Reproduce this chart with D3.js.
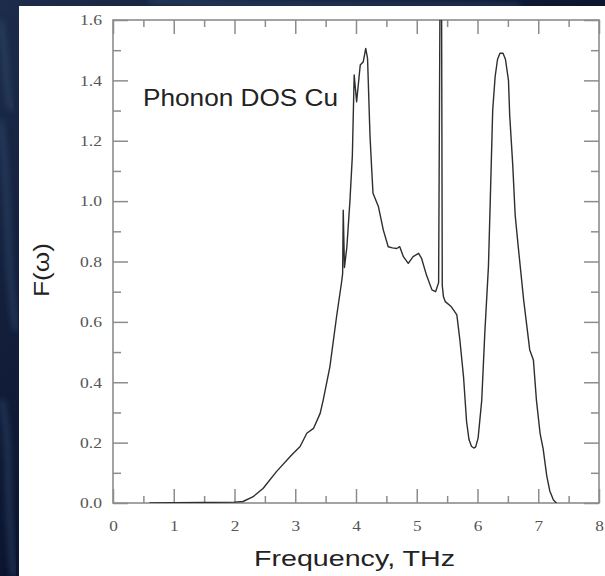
<!DOCTYPE html>
<html>
<head>
<meta charset="utf-8">
<script src="https://cdn.jsdelivr.net/npm/d3@7"></script>
<style>
  body { margin: 0; background: #0a1228; }
  svg { display: block; }
</style>
</head>
<body>
<script>
/* phonon density of states */
var freq = [0.6, 1.0, 1.5, 2.0, 2.14, 2.3, 2.47, 2.69, 2.94, 3.08, 3.19, 3.30, 3.41, 3.46, 3.57, 3.68, 3.76, 3.78, 3.79, 3.81,
            3.85, 3.90, 3.94, 3.97, 4.01, 4.07, 4.12, 4.16, 4.19, 4.23, 4.26, 4.28, 4.37, 4.45, 4.53, 4.60, 4.67, 4.72, 4.78, 4.86,
            4.94, 5.03, 5.08, 5.16, 5.25, 5.31, 5.36, 5.40, 5.42, 5.44, 5.47, 5.57, 5.66, 5.71, 5.77, 5.82, 5.86, 5.90, 5.94, 5.97,
            6.01, 6.07, 6.12, 6.18, 6.21, 6.25, 6.29, 6.33, 6.37, 6.42, 6.46, 6.51, 6.53, 6.58, 6.62, 6.67, 6.76, 6.86, 6.92, 6.97,
            7.03, 7.08, 7.14, 7.19, 7.25, 7.30];
var dos  = [0.0, 0.001, 0.002, 0.003, 0.005, 0.02, 0.048, 0.104, 0.159, 0.187, 0.231, 0.247, 0.297, 0.341, 0.451, 0.617, 0.728, 0.76, 0.97, 0.78,
            0.849, 1.0, 1.15, 1.418, 1.329, 1.451, 1.462, 1.506, 1.473, 1.219, 1.10, 1.026, 0.981, 0.904, 0.849, 0.845, 0.843, 0.849, 0.816, 0.794,
            0.816, 0.827, 0.810, 0.755, 0.706, 0.700, 0.73, 2.4, 0.72, 0.683, 0.667, 0.650, 0.623, 0.540, 0.418, 0.270, 0.210, 0.188, 0.182, 0.186,
            0.215, 0.341, 0.562, 0.783, 1.0, 1.3, 1.412, 1.47, 1.49, 1.49, 1.47, 1.40, 1.285, 1.12, 0.954, 0.85, 0.672, 0.507, 0.474, 0.341,
            0.231, 0.18, 0.09, 0.04, 0.01, 0.0];

var xMajor = [0, 1, 2, 3, 4, 5, 6, 7, 8];
var xMinor = [0.5, 1.5, 2.5, 3.5, 4.5, 5.5, 6.5, 7.5];
var yMajor = [0.0, 0.2, 0.4, 0.6, 0.8, 1.0, 1.2, 1.4, 1.6];
var yMinor = [0.1, 0.3, 0.5, 0.7, 0.9, 1.1, 1.3, 1.5];

var width = 605, height = 576;
var plot = {left: 113, right: 599, top: 20, bottom: 503};
var axisColor = "#8c8c8c";
var majorLen = 14, minorLen = 7; // tick lengths, drawn inward

var svg = d3.select("body").append("svg")
    .attr("width", width)
    .attr("height", height);

/* dark textured backdrop */
var defs = svg.append("defs");
var grad = defs.append("linearGradient").attr("id", "bg")
    .attr("x1", "0").attr("y1", "0").attr("x2", "1").attr("y2", "1");
grad.append("stop").attr("offset", "0").attr("stop-color", "#1c2c4a");
grad.append("stop").attr("offset", "0.5").attr("stop-color", "#0b1530");
grad.append("stop").attr("offset", "1").attr("stop-color", "#060c1c");
defs.append("filter").attr("id", "blur").append("feGaussianBlur").attr("stdDeviation", 3);
defs.append("clipPath").attr("id", "clip").append("rect")
    .attr("x", plot.left).attr("y", plot.top)
    .attr("width", plot.right - plot.left).attr("height", plot.bottom - plot.top);

svg.append("rect").attr("width", width).attr("height", height).attr("fill", "url(#bg)");
var streaks = ["M0,120 C10,180 5,260 16,330", "M2,400 C12,450 6,520 14,576", "M150,0 C250,8 380,2 520,6", "M0,20 C8,60 4,90 12,110"];
svg.selectAll(".streak").data(streaks).enter().append("path")
    .attr("d", function(d) { return d; })
    .attr("fill", "none")
    .attr("stroke", "#3d5a80")
    .attr("stroke-width", 4)
    .attr("opacity", 0.6)
    .attr("filter", "url(#blur)");

/* white panel */
svg.append("rect")
    .attr("x", 19).attr("y", 6)
    .attr("width", width - 19).attr("height", height - 6)
    .attr("fill", "#ffffff");

var xScale = d3.scaleLinear().domain([0, 8]).range([plot.left, plot.right]);
var yScale = d3.scaleLinear().domain([0, 1.6]).range([plot.bottom, plot.top]);

function styleAxis(g) {
    g.select(".domain").remove();
    g.selectAll("line").attr("stroke", axisColor).attr("stroke-width", 1.5);
    g.selectAll("text")
        .attr("fill", "#555")
        .attr("font-family", "'Liberation Serif', 'DejaVu Serif', serif")
        .attr("font-size", 15);
}

function stretch(sel, k) {
    sel.each(function() {
        var w = this.getComputedTextLength();
        d3.select(this).attr("textLength", w * k).attr("lengthAdjust", "spacingAndGlyphs");
    });
}

/* bottom axis with labels */
var gx = svg.append("g")
    .attr("transform", "translate(0," + plot.bottom + ")")
    .call(d3.axisBottom(xScale).tickValues(xMajor).tickSize(-majorLen).tickPadding(majorLen + 9).tickFormat(d3.format("d")))
    .call(styleAxis);
svg.append("g")
    .attr("transform", "translate(0," + plot.bottom + ")")
    .call(d3.axisBottom(xScale).tickValues(xMinor).tickSize(-minorLen).tickFormat(""))
    .call(styleAxis);

/* top axis, ticks only */
svg.append("g")
    .attr("transform", "translate(0," + plot.top + ")")
    .call(d3.axisTop(xScale).tickValues(xMajor).tickSize(-majorLen).tickFormat(""))
    .call(styleAxis);
svg.append("g")
    .attr("transform", "translate(0," + plot.top + ")")
    .call(d3.axisTop(xScale).tickValues(xMinor).tickSize(-minorLen).tickFormat(""))
    .call(styleAxis);

/* left axis with labels */
var gy = svg.append("g")
    .attr("transform", "translate(" + plot.left + ",0)")
    .call(d3.axisLeft(yScale).tickValues(yMajor).tickSize(-(majorLen + 1)).tickPadding(11).tickFormat(d3.format(".1f")))
    .call(styleAxis);
svg.append("g")
    .attr("transform", "translate(" + plot.left + ",0)")
    .call(d3.axisLeft(yScale).tickValues(yMinor).tickSize(-(minorLen + 1)).tickFormat(""))
    .call(styleAxis);

/* right axis, ticks only */
svg.append("g")
    .attr("transform", "translate(" + plot.right + ",0)")
    .call(d3.axisRight(yScale).tickValues(yMajor).tickSize(-(majorLen + 1)).tickFormat(""))
    .call(styleAxis);
svg.append("g")
    .attr("transform", "translate(" + plot.right + ",0)")
    .call(d3.axisRight(yScale).tickValues(yMinor).tickSize(-(minorLen + 1)).tickFormat(""))
    .call(styleAxis);

gx.selectAll("text").attr("dy", "0.3em");
stretch(gx.selectAll("text"), 1.15);
stretch(gy.selectAll("text"), 1.17);

/* frame */
svg.append("rect")
    .attr("x", plot.left).attr("y", plot.top)
    .attr("width", plot.right - plot.left).attr("height", plot.bottom - plot.top)
    .attr("fill", "none")
    .attr("stroke", axisColor)
    .attr("stroke-width", 1.6);

/* the DOS curve */
var points = freq.map(function(f, i) { return [f, dos[i]]; });
var line = d3.line()
    .x(function(d) { return xScale(d[0]); })
    .y(function(d) { return yScale(d[1]); });

svg.append("path")
    .datum(points)
    .attr("clip-path", "url(#clip)")
    .attr("d", line)
    .attr("fill", "none")
    .attr("stroke", "#2e2e2e")
    .attr("stroke-width", 1.4)
    .attr("stroke-linejoin", "round");

/* texts */
var sans = "'Liberation Sans', Arial, Helvetica, sans-serif";
svg.append("text")
    .attr("x", 143).attr("y", 106)
    .attr("font-family", sans).attr("font-size", 24).attr("fill", "#222")
    .attr("textLength", 195).attr("lengthAdjust", "spacingAndGlyphs")
    .text("Phonon DOS Cu");

svg.append("text")
    .attr("x", 354.5).attr("y", 566)
    .attr("text-anchor", "middle")
    .attr("font-family", sans).attr("font-size", 22).attr("fill", "#222")
    .attr("textLength", 201).attr("lengthAdjust", "spacingAndGlyphs")
    .text("Frequency, THz");

svg.append("text")
    .attr("transform", "translate(49,270) rotate(-90)")
    .attr("text-anchor", "middle")
    .attr("font-family", sans).attr("font-size", 22).attr("fill", "#222")
    .attr("textLength", 54).attr("lengthAdjust", "spacingAndGlyphs")
    .text("F(ω)");
</script>
</body>
</html>
